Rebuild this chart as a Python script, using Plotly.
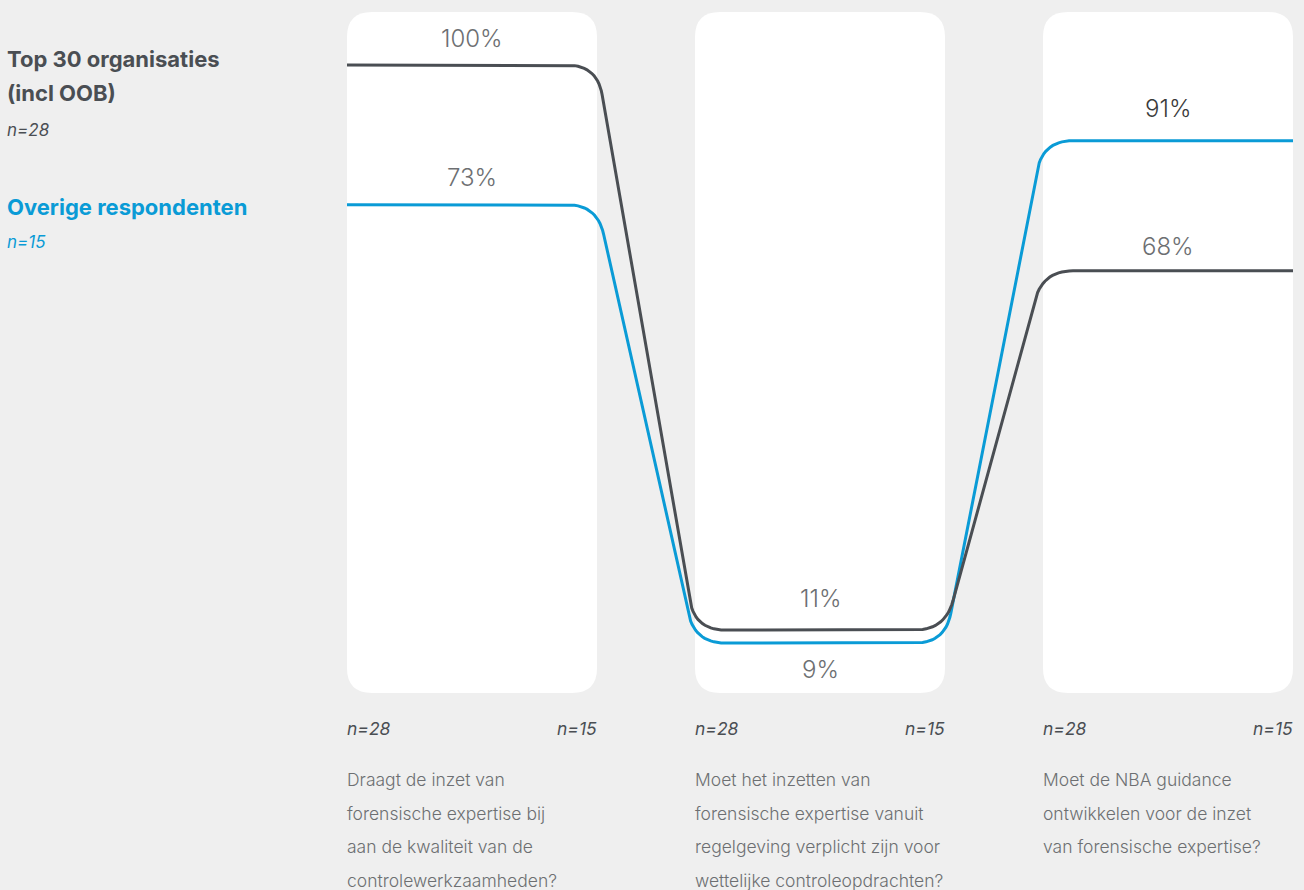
import plotly.graph_objects as go
import numpy as np

# ---------------- data ----------------
questions = [
    ["Draagt de inzet van", "forensische expertise bij", "aan de kwaliteit van de", "controlewerkzaamheden?"],
    ["Moet het inzetten van", "forensische expertise vanuit", "regelgeving verplicht zijn voor", "wettelijke controleopdrachten?"],
    ["Moet de NBA guidance", "ontwikkelen voor de inzet", "van forensische expertise?"],
]
series_names = ["Top 30 organisaties", "Overige respondenten"]
series_sub = ["(incl OOB)", ""]
series_n = ["n=28", "n=15"]
top30_values = [100, 11, 68]          # labels (%)
overig_values = [73, 9, 91]           # labels (%)
# vertical position of each line inside the column (0 = bottom, 100 = top)
top30_levels = [92.2, 9.25, 62.0]
overig_levels = [71.7, 7.34, 81.1]

# ---------------- layout constants ----------------
W, H = 1304, 890
ML, MR, MT, MB = 347, 11, 12, 197
PW, PH = W - ML - MR, H - MT - MB
HALF = 125 / 348                       # half column width in x units
XR = [-HALF, 2 + HALF]
YR = [0, 100]
SX = PW / (XR[1] - XR[0])              # px per x unit
SY = PH / (YR[1] - YR[0])              # px per y unit

DARK = "#4a4e53"
BLUE = "#0a9bd6"
BG = "#efefef"
TXT = "#6d6f72"
FONT = "Inter"


def to_px(x, y):
    return np.array([(x - XR[0]) * SX, (YR[1] - y) * SY])


def from_px(p):
    return p[0] / SX + XR[0], YR[1] - p[1] / SY


def rounded_path(levels, radius=30, n=16):
    verts = []
    for i, lv in enumerate(levels):
        verts.append((i - HALF, lv))
        verts.append((i + HALF, lv))
    pts = [to_px(*v) for v in verts]
    out = [pts[0]]
    for k in range(1, len(pts) - 1):
        A, P, B = pts[k - 1], pts[k], pts[k + 1]
        da, db = np.linalg.norm(A - P), np.linalg.norm(B - P)
        d = min(radius, da / 2, db / 2)
        P1 = P + (A - P) / da * d
        P2 = P + (B - P) / db * d
        for t in np.linspace(0, 1, n):
            out.append((1 - t) ** 2 * P1 + 2 * (1 - t) * t * P + t ** 2 * P2)
    out.append(pts[-1])
    xs, ys = zip(*[from_px(p) for p in out])
    return list(xs), list(ys)


fig = go.Figure()

for levels, color, name in [(overig_levels, BLUE, series_names[1]), (top30_levels, DARK, series_names[0])]:
    xs, ys = rounded_path(levels)
    fig.add_trace(go.Scatter(x=xs, y=ys, mode="lines", line=dict(color=color, width=3),
                             name=name, showlegend=False, hoverinfo="skip", cliponaxis=False))

# column backgrounds (rounded rectangles)
rx, ry = 25 / SX, 25 / SY
shapes = []
for i in range(len(questions)):
    x0, x1 = i - HALF, i + HALF
    y0, y1 = YR[0], YR[1]
    path = (f"M {x0+rx},{y1} L {x1-rx},{y1} Q {x1},{y1} {x1},{y1-ry} "
            f"L {x1},{y0+ry} Q {x1},{y0} {x1-rx},{y0} L {x0+rx},{y0} "
            f"Q {x0},{y0} {x0},{y0+ry} L {x0},{y1-ry} Q {x0},{y1} {x0+rx},{y1} Z")
    shapes.append(dict(type="path", path=path, xref="x", yref="y",
                       fillcolor="white", line=dict(width=0), layer="below"))

annotations = []
# value labels: shift in px from the line
label_shift = {(0, 0): 27, (0, 1): 32, (0, 2): 24, (1, 0): 27, (1, 1): -26, (1, 2): 32}
for s, (vals, levs) in enumerate([(top30_values, top30_levels), (overig_values, overig_levels)]):
    for i, (v, lv) in enumerate(zip(vals, levs)):
        col = "#3a3a3a" if (s == 1 and i == 2) else TXT
        annotations.append(dict(x=i, y=lv, xref="x", yref="y", text=f"{v}%", showarrow=False,
                                yshift=label_shift[(s, i)], xanchor="center", yanchor="middle",
                                font=dict(family=FONT, size=24, color=col, weight=300)))


def px_x(px):
    return (px - ML) / PW


def px_y(py):
    return (H - MB - py) / PH


# left legend
legend_items = [
    (series_names[0], 59, DARK, 22, "bold"),
    (series_sub[0], 93, DARK, 22, "bold"),
    (series_n[0], 130, DARK, 17, "italic"),
    (series_names[1], 207, BLUE, 22, "bold"),
    (series_n[1], 242, BLUE, 17, "italic"),
]
for text, py, color, size, style in legend_items:
    if style == "bold":
        fnt = dict(family=FONT, size=size, color=color, weight=700)
    else:
        fnt = dict(family=FONT, size=size, color=color, style="italic")
    annotations.append(dict(x=px_x(5), y=px_y(py), xref="paper", yref="paper", text=text,
                            showarrow=False, xanchor="left", yanchor="middle", font=fnt))

# bottom n labels and questions
for i, q in enumerate(questions):
    left, right = to_px(i - HALF, 0)[0] + ML, to_px(i + HALF, 0)[0] + ML
    annotations.append(dict(x=px_x(left - 2), y=px_y(728), xref="paper", yref="paper",
                            text=series_n[0], showarrow=False, xanchor="left", yanchor="middle",
                            font=dict(family=FONT, size=17.5, color=DARK, style="italic")))
    annotations.append(dict(x=px_x(right + 2), y=px_y(728), xref="paper", yref="paper",
                            text=series_n[1], showarrow=False, xanchor="right", yanchor="middle",
                            font=dict(family=FONT, size=17.5, color=DARK, style="italic")))
    for k, line in enumerate(q):
        annotations.append(dict(x=px_x(left - 2), y=px_y(780 + k * 33.4), xref="paper", yref="paper",
                                text=line, showarrow=False, xanchor="left", yanchor="middle",
                                font=dict(family=FONT, size=17.5, color=TXT, weight=300)))

fig.update_layout(
    width=W, height=H,
    margin=dict(l=ML, r=MR, t=MT, b=MB, pad=0),
    paper_bgcolor=BG, plot_bgcolor="rgba(0,0,0,0)",
    xaxis=dict(range=XR, visible=False, fixedrange=True),
    yaxis=dict(range=YR, visible=False, fixedrange=True),
    shapes=shapes, annotations=annotations, showlegend=False,
    font=dict(family=FONT),
)

fig.write_html("out.html", config={"displayModeBar": False})
